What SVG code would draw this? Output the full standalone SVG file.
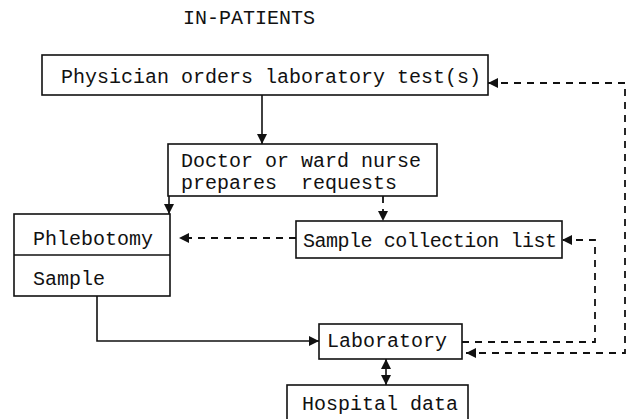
<svg xmlns="http://www.w3.org/2000/svg" width="628" height="419" viewBox="0 0 628 419">
  <style>
    text { font-family: "Liberation Mono", "Courier New", monospace; font-size: 20px; fill: #111; }
    .box { fill: #fff; stroke: #111; stroke-width: 1.6; }
    .solid { fill: none; stroke: #111; stroke-width: 1.6; }
    .dash { fill: none; stroke: #111; stroke-width: 1.8; stroke-dasharray: 7 6; }
  </style>
  <defs>
    <marker id="head" viewBox="0 0 10 10" refX="10" refY="5" markerWidth="10" markerHeight="10" markerUnits="userSpaceOnUse" orient="auto-start-reverse">
      <path d="M0,0 L10,5 L0,10 Z" fill="#111"/>
    </marker>
  </defs>

  <rect width="628" height="419" fill="#fff"/>

  <text id="title" x="183" y="24">IN-PATIENTS</text>

  <g id="physician">
    <rect class="box" x="42" y="55" width="446" height="40"/>
    <text x="61" y="83">Physician orders laboratory test(s)</text>
  </g>

  <g id="doctor">
    <rect class="box" x="168" y="144" width="269" height="52"/>
    <text x="181" y="167">Doctor or ward nurse</text>
    <text x="181" y="189" xml:space="preserve">prepares  requests</text>
  </g>

  <g id="phlebotomy">
    <rect class="box" x="14" y="214" width="156" height="82"/>
    <line class="solid" x1="14" y1="255" x2="170" y2="255"/>
    <text x="33" y="245">Phlebotomy</text>
    <text x="33" y="285">Sample</text>
  </g>

  <g id="collection-list">
    <rect class="box" x="296" y="221" width="266" height="37"/>
    <text x="303" y="247" textLength="254" lengthAdjust="spacing">Sample collection list</text>
  </g>

  <g id="laboratory">
    <rect class="box" x="319" y="324" width="143" height="35"/>
    <text x="327" y="347">Laboratory</text>
  </g>

  <g id="hospital-data">
    <rect class="box" x="287" y="385" width="181" height="44"/>
    <text x="302" y="410">Hospital data</text>
  </g>

  <g id="connectors">
    <!-- solid flow -->
    <line class="solid" x1="262" y1="95" x2="262" y2="144" marker-end="url(#head)"/>
    <line class="solid" x1="169" y1="196" x2="169" y2="214" marker-end="url(#head)"/>
    <polyline class="solid" points="97,296 97,341 319,341" marker-end="url(#head)"/>
    <line class="solid" x1="386" y1="359" x2="386" y2="385" marker-start="url(#head)" marker-end="url(#head)"/>
    <!-- dashed information flow -->
    <line class="dash" x1="383" y1="196" x2="383" y2="221" marker-end="url(#head)"/>
    <line class="dash" x1="296" y1="238" x2="179" y2="238" marker-end="url(#head)"/>
    <polyline class="dash" points="462,342 595,342 595,240 562,240" marker-end="url(#head)"/>
    <polyline class="dash" points="488,83 625,83 625,353 466,353" marker-start="url(#head)" marker-end="url(#head)"/>
  </g>
</svg>
